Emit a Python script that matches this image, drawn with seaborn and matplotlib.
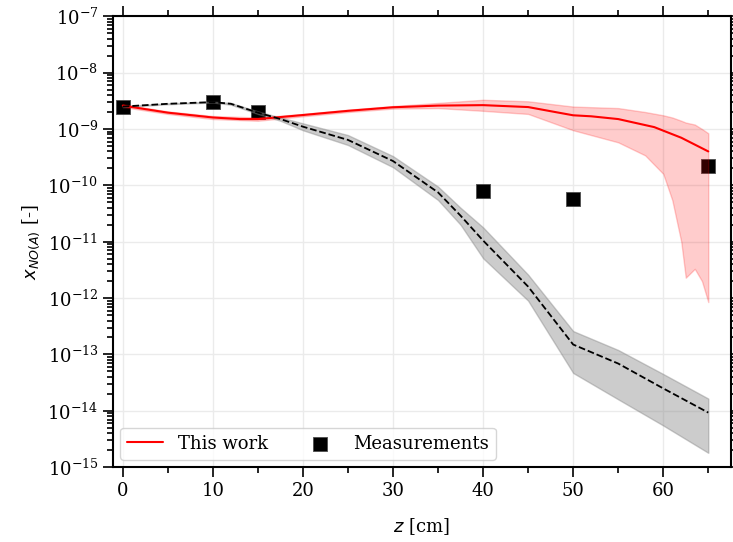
import numpy as np
import pandas as pd
import seaborn as sns
import matplotlib.pyplot as plt
from matplotlib.ticker import MultipleLocator, LogLocator

# model (this work) - red line + band
z_model = [0, 5, 10, 13, 15, 17, 20, 25, 30, 35, 40, 45, 48, 50, 52, 55, 59, 62, 65]
x_model = [2.6e-9, 1.95e-9, 1.6e-9, 1.5e-9, 1.5e-9, 1.6e-9, 1.77e-9, 2.1e-9, 2.43e-9, 2.6e-9,
           2.65e-9, 2.45e-9, 2.0e-9, 1.75e-9, 1.68e-9, 1.5e-9, 1.08e-9, 7.0e-10, 4.0e-10]
z_band_r = [0, 5, 10, 15, 20, 25, 30, 35, 40, 45, 50, 55, 58, 60, 61, 62, 62.5, 63.5, 64.3, 65]
up_r = [2.75e-9, 2.05e-9, 1.7e-9, 1.6e-9, 1.85e-9, 2.2e-9, 2.55e-9, 2.9e-9, 3.3e-9, 3.1e-9,
        2.5e-9, 2.35e-9, 2.0e-9, 1.75e-9, 1.6e-9, 1.4e-9, 1.3e-9, 1.2e-9, 1.0e-9, 8.4e-10]
lo_r = [2.45e-9, 1.85e-9, 1.5e-9, 1.4e-9, 1.68e-9, 2.0e-9, 2.3e-9, 2.35e-9, 2.1e-9, 1.85e-9,
        9.5e-10, 5.8e-10, 3.4e-10, 1.6e-10, 5.5e-11, 1.0e-11, 2.3e-12, 3.3e-12, 2.0e-12, 8.5e-13]

# reference model - black dashed line + gray band
z_ref = [0, 5, 10, 12, 15, 17.5, 20, 25, 30, 35, 37.5, 40, 45, 50, 55, 60, 65]
x_ref = [2.5e-9, 2.8e-9, 3.0e-9, 2.8e-9, 1.95e-9, 1.5e-9, 1.1e-9, 6.4e-10, 2.7e-10, 7.5e-11,
         2.9e-11, 1.05e-11, 1.6e-12, 1.5e-13, 6.9e-14, 2.5e-14, 9.3e-15]
up_k = [2.55e-9, 2.85e-9, 3.05e-9, 2.9e-9, 2.05e-9, 1.6e-9, 1.26e-9, 7.8e-10, 3.3e-10, 9.5e-11,
        4.0e-11, 1.8e-11, 2.6e-12, 2.6e-13, 1.2e-13, 4.5e-14, 1.65e-14]
lo_k = [2.45e-9, 2.75e-9, 2.95e-9, 2.7e-9, 1.85e-9, 1.4e-9, 9.5e-10, 5.2e-10, 2.1e-10, 5.5e-11,
        2.0e-11, 5.1e-12, 9.0e-13, 4.7e-14, 1.6e-14, 5.5e-15, 1.8e-15]

# measurements
z_meas = [0, 10, 15, 40, 50, 65]
x_meas = [2.45e-9, 3.0e-9, 2.0e-9, 7.9e-11, 5.7e-11, 2.2e-10]

sns.set_theme(style="ticks")
plt.rcParams['font.family'] = ['DejaVu Serif']
plt.rcParams['mathtext.fontset'] = 'dejavusans'
plt.rcParams['font.size'] = 13
plt.rcParams['axes.edgecolor'] = 'black'
plt.rcParams['xtick.color'] = 'black'
plt.rcParams['ytick.color'] = 'black'
plt.rcParams['text.color'] = 'black'
plt.rcParams['axes.labelcolor'] = 'black'

fig = plt.figure(figsize=(7.33, 5.42), dpi=100)
ax = fig.add_axes([0.154, 0.138, 0.843, 0.832])

meas = pd.DataFrame({"z": z_meas, "x": x_meas})
sns.scatterplot(data=meas, x="z", y="x", marker="s", s=110, color="black",
                edgecolor="0.3", linewidth=0.6, label="Measurements", zorder=2, ax=ax)

ax.fill_between(z_band_r, lo_r, up_r, color="red", alpha=0.2, lw=1, zorder=3)
ax.fill_between(z_ref, lo_k, up_k, color="0.5", alpha=0.4, lw=1, zorder=3)

sns.lineplot(x=z_model, y=x_model, color="red", lw=1.5, label="This work", zorder=4, ax=ax)
sns.lineplot(x=z_ref, y=x_ref, color="black", lw=1.3, linestyle="--", zorder=4, ax=ax)

ax.set_yscale("log")
ax.set_ylim(1e-15, 1e-7)
ax.set_xlim(-1.1, 67.5)
ax.xaxis.set_major_locator(MultipleLocator(10))
ax.xaxis.set_minor_locator(MultipleLocator(5))
ax.yaxis.set_major_locator(LogLocator(base=10, numticks=20))
ax.yaxis.set_minor_locator(LogLocator(base=10, subs=np.arange(2, 10), numticks=20))
ax.tick_params(which="both", top=True, right=True, direction="out", labelsize=13, width=1.2)
ax.tick_params(which="major", length=7)
ax.tick_params(which="minor", length=4)
for s in ax.spines.values():
    s.set_linewidth(1.5)
ax.grid(True, which="major", color="0.92", lw=1)
ax.set_axisbelow(True)

ax.set_xlabel("$z$ [cm]", fontsize=13, labelpad=12)
ax.set_ylabel("$x_{NO(A)}$ [-]", fontsize=13)

h, l = ax.get_legend_handles_labels()
order = [l.index("This work"), l.index("Measurements")]
ax.legend([h[i] for i in order], [l[i] for i in order], loc="lower left", ncol=2,
          fontsize=13, columnspacing=1.9, handlelength=2.0, markerscale=0.9, borderaxespad=0.4)

plt.savefig("out.png", dpi=100)
